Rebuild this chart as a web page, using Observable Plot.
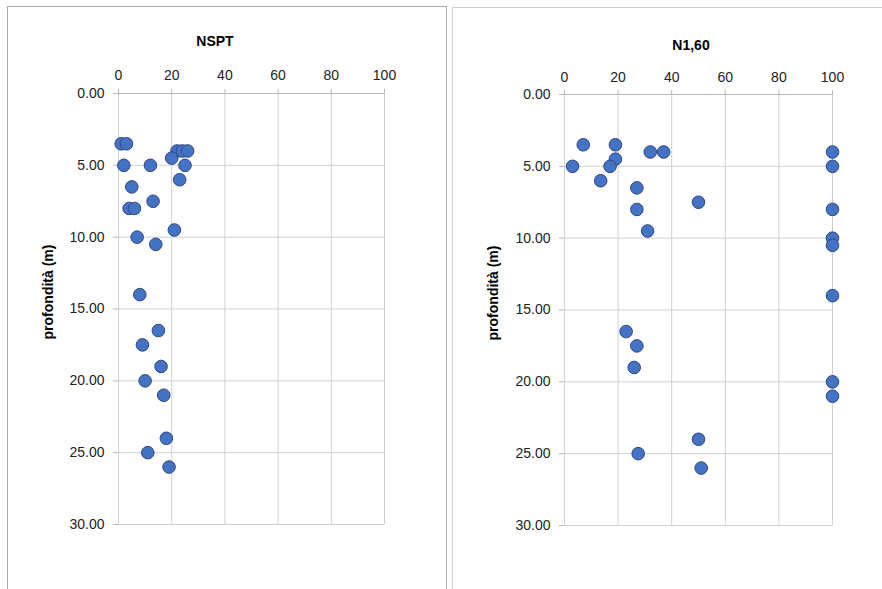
<!DOCTYPE html>
<html><head><meta charset="utf-8">
<script src="https://cdn.jsdelivr.net/npm/d3@7"></script>
<script src="https://cdn.jsdelivr.net/npm/@observablehq/plot@0.6"></script>
<style>
body{margin:0;background:#fff;font-family:"Liberation Sans",Arial,sans-serif;}
#wrap{position:relative;width:882px;height:589px;overflow:hidden;background:#fff;}
.panel{position:absolute;box-sizing:border-box;height:620px;}
.title{position:absolute;font-weight:bold;font-size:14px;transform:translate(-50%,-50%);white-space:nowrap;color:#000;}
.ylab{position:absolute;font-weight:bold;font-size:14px;transform:translate(-50%,-50%) rotate(-90deg);white-space:nowrap;color:#000;}
.chart{position:absolute;top:0;}
.chart svg{overflow:visible;}
</style>
</head><body>
<div id="wrap">
  <div class="panel" style="left:7px;top:6px;width:440px;border:1px solid #ababab;"></div>
  <div class="panel" style="left:452px;top:7px;width:440px;border:1px solid #d0d0d0;"></div>
  <div class="title" style="left:215px;top:41px;">NSPT</div>
  <div class="title" style="left:691px;top:45px;">N1,60</div>
  <div class="ylab" style="left:48px;top:292px;">profondità (m)</div>
  <div class="ylab" style="left:493px;top:293px;">profondità (m)</div>
  <div class="chart" id="c1" style="left:0px;"></div>
  <div class="chart" id="c2" style="left:446px;"></div>
</div>
<script>
// Data
const depth = [3.5, 3.5, 4, 4, 4, 4.5, 5, 5, 5, 6, 6.5, 7.5, 8, 8, 9.5, 10, 10.5, 14, 16.5, 17.5, 19, 20, 21, 24, 25, 26];
const nspt  = [1, 3, 22, 24, 26, 20, 2, 12, 25, 23, 5, 13, 4, 6, 21, 7, 14, 8, 15, 9, 16, 10, 17, 18, 11, 19];
const n160  = [7, 19, 32, 37, 100, 19, 3, 17, 100, 13.5, 27, 50, 27, 100, 31, 100, 100, 100, 23, 27, 26, 100, 100, 50, 27.5, 51];
const xTicks = [0, 20, 40, 60, 80, 100];
const yTicks = [0, 5, 10, 15, 20, 25, 30];

function chart(values, o) {
  const data = depth.map((d, i) => ({depth: d, value: values[i]}));
  return Plot.plot({
    width: o.width, height: 589,
    marginLeft: 118, marginRight: o.mr, marginTop: o.mt, marginBottom: 589 - o.bottom,
    style: {fontFamily: '"Liberation Sans", Arial, sans-serif', fontSize: "14px", background: "transparent", color: "#333"},
    x: {domain: [0, 100]},
    y: {domain: [0, 30], reverse: true},
    marks: [
      Plot.gridX(xTicks, {stroke: "#d0d0d0", strokeOpacity: 1}),
      Plot.gridY(yTicks, {stroke: "#d0d0d0", strokeOpacity: 1}),
      Plot.ruleY([0], {stroke: "#b8b8b8"}),
      Plot.axisX(xTicks, {anchor: "top", tickSize: 5, tickPadding: o.tp, label: null, stroke: "#b8b8b8", fill: "#222"}),
      Plot.axisY(yTicks, {anchor: "left", tickSize: 5, tickPadding: 9, label: null, tickFormat: d => d.toFixed(2), stroke: "#b8b8b8", fill: "#222"}),
      Plot.dot(data, {x: "value", y: "depth", r: 6.3, fill: "#4472C4", stroke: "#2F4A80", strokeWidth: 1})
    ]
  });
}
document.getElementById("c1").appendChild(chart(nspt, {width: 446, mr: 62, mt: 93, bottom: 524, tp: 9}));
document.getElementById("c2").appendChild(chart(n160, {width: 436, mr: 50, mt: 94, bottom: 525, tp: 8}));
</script>
</body></html>
